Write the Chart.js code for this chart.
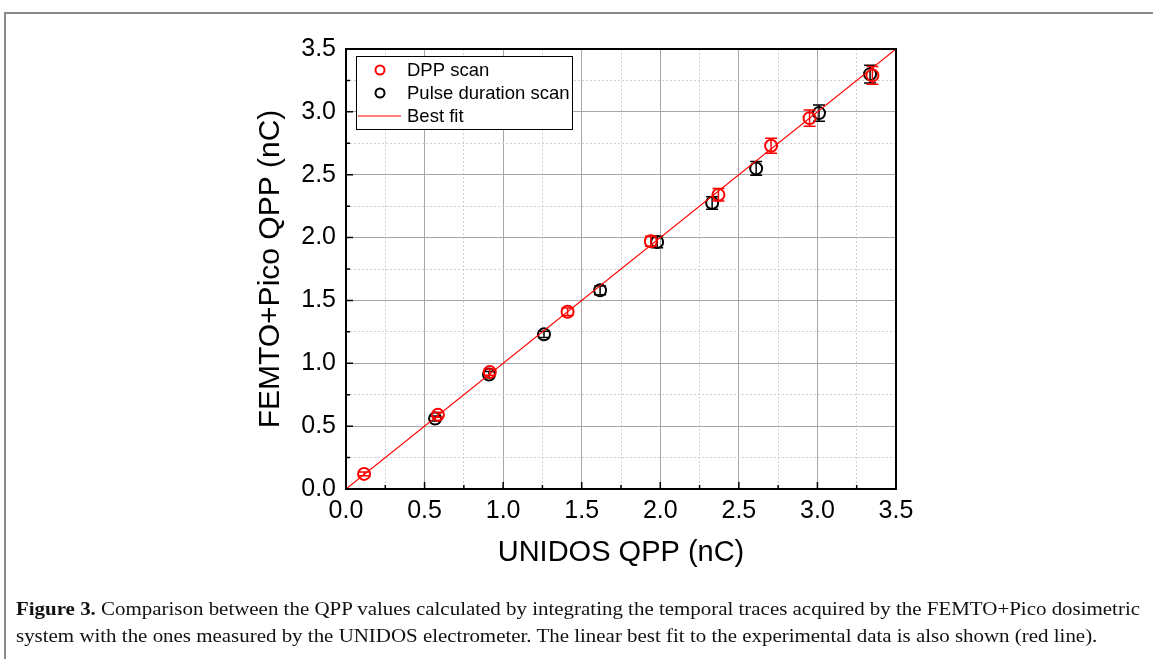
<!DOCTYPE html>
<html>
<head>
<meta charset="utf-8">
<script src="https://cdn.jsdelivr.net/npm/chart.js@4"></script>
<style>
  html, body { margin: 0; padding: 0; background: #fff; }
  body { width: 1153px; height: 659px; position: relative; overflow: hidden; }
  #frame { position: absolute; left: 4px; top: 12px; width: 1200px; height: 700px;
           border-top: 2px solid #8a8a8a; border-left: 2px solid #8a8a8a; }
  #chart { position: absolute; left: 0; top: 0; }
  #caption { position: absolute; left: 16px; top: 596px; white-space: nowrap;
             font-family: "Liberation Serif", "DejaVu Serif", serif; font-size: 18px;
             line-height: 27px; color: #111; transform-origin: 0 0; }
  #caption b { font-weight: bold; }
</style>
</head>
<body>
<div id="frame"></div>
<canvas id="chart" width="1153" height="659"></canvas>
<div id="caption"><span id="line1"><b>Figure 3.</b> Comparison between the QPP values calculated by integrating the temporal traces acquired by the FEMTO+Pico dosimetric</span><br><span id="line2">system with the ones measured by the UNIDOS electrometer. The linear best fit to the experimental data is also shown (red line).</span></div>
<script>
// DPP scan points (UNIDOS vs FEMTO+Pico, nC)
const dppX = [0.115, 0.585, 0.915, 1.41, 1.94, 2.37, 2.705, 2.95, 3.35];
const dppY = [0.12, 0.59, 0.93, 1.41, 1.97, 2.34, 2.73, 2.95, 3.29];
const dppErr = [0.015, 0.02, 0.025, 0.03, 0.04, 0.05, 0.06, 0.065, 0.07];

// Pulse duration scan points
const pulseX = [0.567, 0.91, 1.26, 1.617, 1.98, 2.33, 2.61, 3.01, 3.335];
const pulseY = [0.56, 0.91, 1.23, 1.58, 1.965, 2.275, 2.55, 2.99, 3.30];
const pulseErr = [0.02, 0.025, 0.025, 0.035, 0.045, 0.05, 0.055, 0.065, 0.07];

// Best fit line
const fitSlope = 1.0;
const fitIntercept = 0.0;
const fitX = [0, 3.5];

const tickValues = [0.0, 0.5, 1.0, 1.5, 2.0, 2.5, 3.0, 3.5];

const FONT = '"Liberation Sans", Arial, sans-serif';

function toPoints(xs, ys) {
    return xs.map((x, i) => ({ x: x, y: ys[i] }));
}

function isMajor(v) {
    return Math.abs(v * 2 - Math.round(v * 2)) < 1e-6;
}

// Error bars drawn right after each scatter dataset
const errorBars = {
    id: 'errorBars',
    afterDatasetDraw(chart, args) {
        const ds = chart.data.datasets[args.index];
        if (!ds.errors) return;
        const ctx = chart.ctx;
        const xs = chart.scales.x, ys = chart.scales.y;
        ctx.save();
        ctx.strokeStyle = ds.borderColor;
        ctx.lineWidth = 1.5;
        ds.data.forEach((p, i) => {
            const px = xs.getPixelForValue(p.x);
            const top = ys.getPixelForValue(p.y + ds.errors[i]);
            const bot = ys.getPixelForValue(p.y - ds.errors[i]);
            ctx.beginPath();
            ctx.moveTo(px, top); ctx.lineTo(px, bot);
            ctx.moveTo(px - 6, top); ctx.lineTo(px + 6, top);
            ctx.moveTo(px - 6, bot); ctx.lineTo(px + 6, bot);
            ctx.stroke();
        });
        ctx.restore();
    }
};

// Plot frame, inward ticks and the legend box
const frameAndLegend = {
    id: 'frameAndLegend',
    afterDraw(chart) {
        const ctx = chart.ctx;
        const a = chart.chartArea;
        const xs = chart.scales.x, ys = chart.scales.y;
        ctx.save();
        ctx.strokeStyle = '#000';
        ctx.lineWidth = 2;
        ctx.strokeRect(a.left, a.top, a.right - a.left, a.bottom - a.top);
        ctx.lineWidth = 1.5;
        ctx.beginPath();
        xs.ticks.forEach(t => {
            const px = xs.getPixelForValue(t.value);
            const len = isMajor(t.value) ? 7 : 4;
            ctx.moveTo(px, a.bottom); ctx.lineTo(px, a.bottom - len);
        });
        ys.ticks.forEach(t => {
            const py = ys.getPixelForValue(t.value);
            const len = isMajor(t.value) ? 7 : 4;
            ctx.moveTo(a.left, py); ctx.lineTo(a.left + len, py);
        });
        ctx.stroke();

        // legend
        const lx = 356.5, ly = 56.5, lw = 216, lh = 73;
        ctx.fillStyle = '#fff';
        ctx.fillRect(lx, ly, lw, lh);
        ctx.strokeStyle = '#000';
        ctx.lineWidth = 1;
        ctx.strokeRect(lx, ly, lw, lh);
        const rows = [
            { label: 'DPP scan', color: '#ff0000', kind: 'marker' },
            { label: 'Pulse duration scan', color: '#000000', kind: 'marker' },
            { label: 'Best fit', color: '#ff0000', kind: 'line' }
        ];
        ctx.font = '18.5px ' + FONT;
        ctx.textBaseline = 'middle';
        rows.forEach((r, i) => {
            const y = 70 + i * 23;
            ctx.strokeStyle = r.color;
            if (r.kind === 'marker') {
                ctx.lineWidth = 2;
                ctx.beginPath();
                ctx.arc(380, y, 4.5, 0, Math.PI * 2);
                ctx.stroke();
            } else {
                ctx.lineWidth = 1.2;
                ctx.beginPath();
                ctx.moveTo(358, y); ctx.lineTo(401, y);
                ctx.stroke();
            }
            ctx.fillStyle = '#000';
            ctx.fillText(r.label, 407, y + 1);
        });
        ctx.restore();
    }
};

const gridColor = ctx => isMajor(ctx.tick.value) ? '#a6a6a6' : '#cfcfcf';
const gridDash = ctx => isMajor(ctx.tick.value) ? [] : [2, 2];

new Chart(document.getElementById('chart'), {
    type: 'scatter',
    data: {
        datasets: [
            {
                type: 'line',
                label: 'Best fit',
                data: fitX.map(x => ({ x: x, y: fitSlope * x + fitIntercept })),
                borderColor: '#ff0000',
                borderWidth: 1.2,
                pointRadius: 0,
                fill: false,
                order: 0
            },
            {
                label: 'DPP scan',
                data: toPoints(dppX, dppY),
                errors: dppErr,
                borderColor: '#ff0000',
                backgroundColor: 'rgba(0,0,0,0)',
                pointRadius: 6,
                borderWidth: 2,
                order: 1
            },
            {
                label: 'Pulse duration scan',
                data: toPoints(pulseX, pulseY),
                errors: pulseErr,
                borderColor: '#000000',
                backgroundColor: 'rgba(0,0,0,0)',
                pointRadius: 6,
                borderWidth: 2,
                order: 2
            }
        ]
    },
    options: {
        responsive: false,
        animation: false,
        events: [],
        layout: { padding: { left: 246, right: 257, top: 49, bottom: 70 } },
        plugins: { legend: { display: false }, tooltip: { enabled: false } },
        scales: {
            x: {
                type: 'linear', min: 0, max: 3.5,
                afterFit(scale) { scale.height = 100; },
                afterBuildTicks(scale) {
                    scale.ticks = [];
                    for (let i = 0; i <= 14; i++) scale.ticks.push({ value: i * 0.25 });
                },
                ticks: {
                    autoSkip: false, maxRotation: 0, padding: 7, color: '#000',
                    font: { family: FONT, size: 25 },
                    callback: v => tickValues.includes(Math.round(v * 100) / 100) ? v.toFixed(1) : ''
                },
                grid: { drawTicks: false, color: gridColor, lineWidth: 1 },
                border: { display: false, dash: gridDash },
                title: {
                    display: true, text: 'UNIDOS QPP (nC)', color: '#000',
                    font: { family: FONT, size: 29 }, padding: { top: 0, bottom: 18.6 }
                }
            },
            y: {
                type: 'linear', min: 0, max: 3.5,
                afterFit(scale) { scale.width = 100; },
                afterBuildTicks(scale) {
                    scale.ticks = [];
                    for (let i = 0; i <= 14; i++) scale.ticks.push({ value: i * 0.25 });
                },
                ticks: {
                    autoSkip: false, padding: 10, color: '#000',
                    font: { family: FONT, size: 25 },
                    callback: v => tickValues.includes(Math.round(v * 100) / 100) ? v.toFixed(1) : ''
                },
                grid: { drawTicks: false, color: gridColor, lineWidth: 1 },
                border: { display: false, dash: gridDash },
                title: {
                    display: true, text: 'FEMTO+Pico QPP (nC)', color: '#000',
                    font: { family: FONT, size: 30 }, padding: { top: 6.6, bottom: 0 }
                }
            }
        }
    },
    plugins: [errorBars, frameAndLegend]
});

// squeeze the caption to the width of the original text block
const cap = document.getElementById('caption');
const w1 = document.getElementById('line1').getBoundingClientRect().width;
cap.style.transform = 'scaleX(' + (1124 / w1) + ')';
</script>
</body>
</html>
